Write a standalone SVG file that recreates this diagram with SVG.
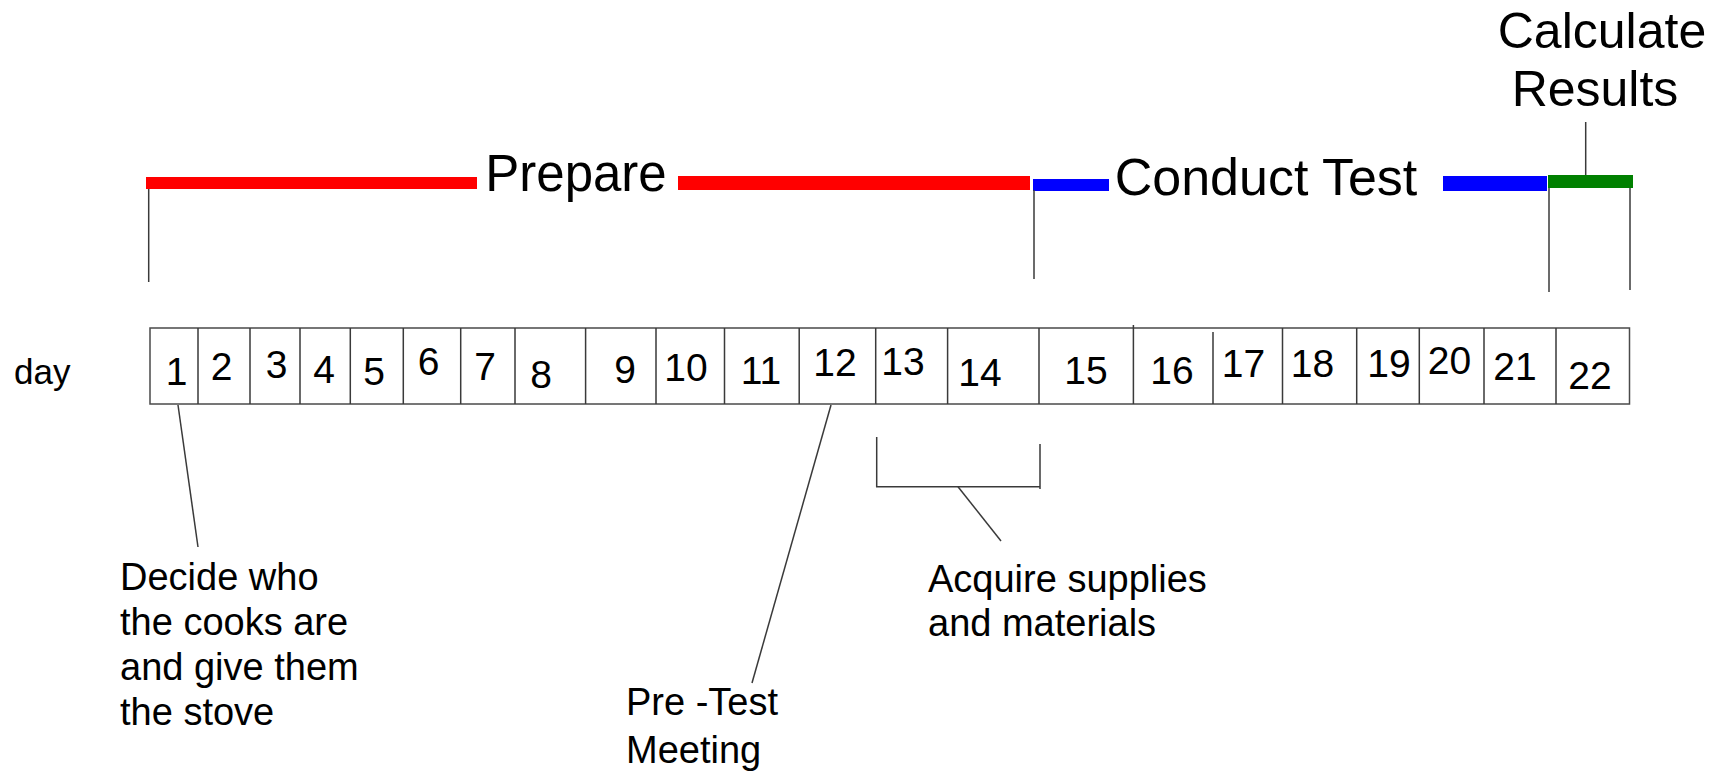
<svg xmlns="http://www.w3.org/2000/svg" width="1729" height="771" viewBox="0 0 1729 771">
  <style>
    text { font-family: "Liberation Sans", Arial, sans-serif; fill: #000; }
    .phase { font-size: 50px; text-anchor: middle; }
    .num { font-size: 39px; text-anchor: middle; }
    .note { font-size: 38px; }
    .ln { stroke: #3a3a3a; stroke-width: 1.5; fill: none; }
    .cell { stroke: #4a4a4a; stroke-width: 1.5; fill: #fff; }
  </style>
  <rect width="1729" height="771" fill="#fff"/>

  <!-- phase bars -->
  <g id="phase-prepare">
    <rect x="146" y="177" width="331" height="12" fill="#ff0000"/>
    <rect x="678" y="176" width="352" height="14" fill="#ff0000"/>
    <text class="phase" x="576" y="191" style="font-size:51px">Prepare</text>
  </g>
  <g id="phase-conduct">
    <rect x="1033" y="179" width="76" height="12" fill="#0000ff"/>
    <rect x="1443" y="176" width="104" height="15" fill="#0000ff"/>
    <text class="phase" x="1266" y="195" style="font-size:52px">Conduct Test</text>
  </g>
  <g id="phase-calculate">
    <rect x="1548" y="175" width="85" height="13" fill="#008000"/>
    <text class="phase" x="1602" y="48">Calculate</text>
    <text class="phase" x="1595" y="106">Results</text>
  </g>

  <!-- day strip -->
  <g id="day-strip">
    <text x="14" y="384" style="font-size:35px">day</text>
    <rect class="cell" x="150" y="328" width="1479.5" height="76"/>
    <path class="ln" d="M198 328V404 M250 328V404 M300 328V404 M350.3 328V404 M403.3 328V404 M460.7 328V404 M515 328V404 M585.6 328V404 M656 328V404 M724.5 328V404 M799.2 328V404 M875.7 328V404 M947.6 328V404 M1039 328V404 M1133.4 325V404 M1213 332V404 M1282.5 328V404 M1356.7 328V404 M1419.3 328V404 M1484 328V404 M1556 328V404"/>
    <text class="num" x="176.5" y="385">1</text>
    <text class="num" x="221.5" y="380">2</text>
    <text class="num" x="276.5" y="378">3</text>
    <text class="num" x="324" y="382.5">4</text>
    <text class="num" x="374" y="385">5</text>
    <text class="num" x="428.5" y="375">6</text>
    <text class="num" x="485" y="380">7</text>
    <text class="num" x="541" y="388">8</text>
    <text class="num" x="625" y="383">9</text>
    <text class="num" x="686" y="381">10</text>
    <text class="num" x="761" y="384">11</text>
    <text class="num" x="835" y="375.5">12</text>
    <text class="num" x="903" y="375">13</text>
    <text class="num" x="980" y="385.5">14</text>
    <text class="num" x="1086" y="384">15</text>
    <text class="num" x="1172" y="383.5">16</text>
    <text class="num" x="1243.5" y="376.5">17</text>
    <text class="num" x="1312.5" y="376.5">18</text>
    <text class="num" x="1389" y="376.5">19</text>
    <text class="num" x="1449.5" y="374">20</text>
    <text class="num" x="1515" y="380">21</text>
    <text class="num" x="1590" y="389">22</text>
  </g>

  <!-- annotations -->
  <g id="note-cooks">
    <text class="note" x="120" y="590">Decide who</text>
    <text class="note" x="120" y="635">the cooks are</text>
    <text class="note" x="120" y="680">and give them</text>
    <text class="note" x="120" y="725">the stove</text>
  </g>
  <g id="note-meeting">
    <text class="note" x="626" y="715">Pre -Test</text>
    <text class="note" x="626" y="763">Meeting</text>
  </g>
  <g id="note-supplies">
    <text class="note" x="928" y="592">Acquire supplies</text>
    <text class="note" x="928" y="636">and materials</text>
  </g>

  <!-- leader lines and markers -->
  <g id="connectors">
    <path class="ln" d="M148.7 189V282"/>
    <path class="ln" d="M1034 190V279"/>
    <path class="ln" d="M1549 188V292"/>
    <path class="ln" d="M1630 188V290"/>
    <path class="ln" d="M1585.7 122V175"/>
    <path class="ln" d="M178 405L198 547"/>
    <path class="ln" d="M831 405L752 683"/>
    <path class="ln" d="M876.7 437V486.7H1040 M1040 444V489"/>
    <path class="ln" d="M958 486.7L1001 541"/>
  </g>
</svg>
